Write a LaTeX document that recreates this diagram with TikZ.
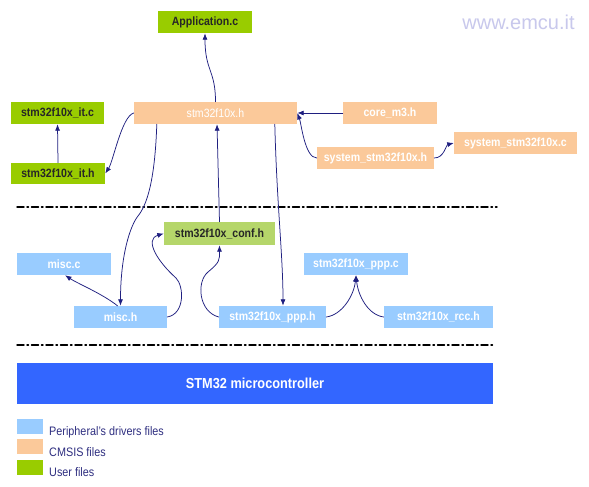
\documentclass[tikz,border=0pt]{standalone}
\usepackage{fontspec}
\setmainfont[FakeStretch=0.88]{Liberation Sans}
\newfontfamily\webfont{Liberation Sans}
\usetikzlibrary{arrows.meta}
\definecolor{cmsis}{HTML}{FBC99A}
\definecolor{periph}{HTML}{99CCFF}
\definecolor{user}{HTML}{99CC00}
\definecolor{userlight}{HTML}{B5D66A}
\definecolor{mcu}{HTML}{3366FF}
\definecolor{linkcol}{HTML}{1F1F80}
\definecolor{legendtxt}{HTML}{2E2E80}
\definecolor{weblogo}{HTML}{C8C8EC}

\begin{document}
\begin{tikzpicture}[x=1pt,y=-1pt,line cap=round,line join=round,
  file/.style={minimum height=22pt,inner sep=0pt,font=\fontsize{12}{14}\selectfont},
  cmsisfile/.style={file,fill=cmsis,text=white},
  periphfile/.style={file,fill=periph,text=white,font=\fontsize{12}{14}\selectfont\bfseries},
  userfile/.style={file,fill=user,text=black!85,font=\fontsize{12}{14}\selectfont\bfseries},
  link/.style={draw=linkcol,line width=0.75pt,-{Latex[length=6.5pt,width=5pt]}},
  layer/.style={line width=1.4pt,dash pattern=on 7pt off 3pt on 1.5pt off 3pt},
  keybox/.style={minimum width=26pt,minimum height=15pt,inner sep=0pt},
  keytext/.style={anchor=west,inner sep=0pt,text=legendtxt,font=\fontsize{12.3}{14}\selectfont}]
  \fill[white] (0,0) rectangle (589,487);
  \useasboundingbox (0,0) rectangle (589,487);

  \node[text=weblogo,font=\webfont\fontsize{20}{22}\selectfont] (web) at (518.5,22) {www.emcu.it};

  % CMSIS layer
  \node[userfile,minimum width=94pt] (app) at (205,22) {Application.c};
  \node[cmsisfile,minimum width=163pt] (h) at (215.5,113) {stm32f10x.h};
  \node[userfile,minimum width=93pt] (itc) at (57.5,113) {stm32f10x\_it.c};
  \node[userfile,minimum width=94pt,minimum height=21pt] (ith) at (58,173.5) {stm32f10x\_it.h};
  \node[cmsisfile,minimum width=94pt,font=\fontsize{12}{14}\selectfont\bfseries] (core) at (390,113) {core\_m3.h};
  \node[cmsisfile,minimum width=117pt,font=\fontsize{12}{14}\selectfont\bfseries] (sysh) at (375.5,158) {system\_stm32f10x.h};
  \node[cmsisfile,minimum width=123pt,font=\fontsize{12}{14}\selectfont\bfseries] (sysc) at (515.5,143) {system\_stm32f10x.c};

  \draw[layer] (17,207) -- (497,207);

  % driver layer
  \node[userfile,fill=userlight,minimum width=111pt,minimum height=23pt] (conf) at (219.5,233.5) {stm32f10x\_conf.h};
  \node[periphfile,minimum width=94pt] (miscc) at (64,264) {misc.c};
  \node[periphfile,minimum width=93pt] (misch) at (120.5,317) {misc.h};
  \node[periphfile,minimum width=107pt] (ppph) at (272.5,317) {stm32f10x\_ppp.h};
  \node[periphfile,minimum width=104pt] (pppc) at (356,264) {stm32f10x\_ppp.c};
  \node[periphfile,minimum width=109pt] (rcch) at (438.5,317) {stm32f10x\_rcc.h};

  \draw[layer] (17,345) -- (493,345);

  \node[fill=mcu,text=white,minimum width=476pt,minimum height=41pt,inner sep=0pt,
    font=\fontsize{14.5}{16}\selectfont\bfseries] (mcu) at (255,383.5) {STM32 microcontroller};

  % legend
  \node[keybox,fill=periph] (kperiph) at (30,426.5) {};
  \node[keybox,fill=cmsis] (kcmsis) at (30,446.5) {};
  \node[keybox,fill=user] (kuser) at (30,467.5) {};
  \node[keytext] (tperiph) at (49,432) {Peripheral’s drivers files};
  \node[keytext] (tcmsis) at (49,452) {CMSIS files};
  \node[keytext] (tuser) at (49,472) {User files};

  % includes
  \draw[link] (h.north) .. controls +(0,-32) and +(0,38) .. (app.south);
  \draw[link] (ith.north) -- (itc.south);
  \draw[link] (h.west) .. controls +(-12,3) and +(8,-12) .. (ith.east);
  \draw[link] (core.west) -- (h.east);
  \draw[link] (sysh.west) .. controls +(-12,0) and +(4,10) .. (h.east);
  \draw[link] (sysh.east) .. controls +(10,0) and +(-8,2) .. (sysc.west);
  \draw[link] ([xshift=23pt]h.south west) .. controls +(-2,60) and +(8,-10) .. (138,216)
    .. controls +(-8,10) and +(0,-50) .. (misch.north);
  \draw[link] ([xshift=-3pt]misch.north) .. controls +(-15,-12) and +(12,8) .. ([xshift=1pt]miscc.south);
  \draw[link] (misch.east) .. controls +(18,-3) and +(8,8) .. (176,278)
    .. controls +(-18,-16) and +(-20,6) .. (conf.west);
  \draw[link] (ppph.west) .. controls +(-20,-5) and +(-12,10) .. (208,272)
    .. controls +(12,-10) and +(0,15) .. (conf.south);
  \draw[link] (conf.north) -- ([xshift=1.5pt]h.south);
  \draw[link] ([xshift=141pt]h.south west) .. controls +(2,80) and +(0,-50) .. ([xshift=10.5pt]ppph.north);
  \draw[link] (ppph.east) .. controls +(16,-2) and +(-2,20) .. (pppc.south);
  \draw[link] (rcch.west) .. controls +(-16,-2) and +(2,20) .. (pppc.south);
\end{tikzpicture}
\end{document}
